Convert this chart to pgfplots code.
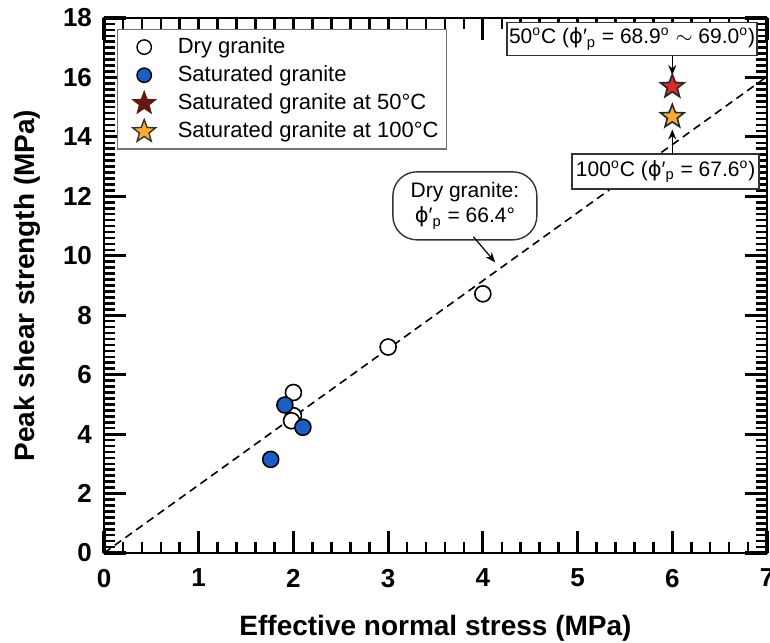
\documentclass[border=0pt]{standalone}
\usepackage{pgfplots}
\pgfplotsset{compat=1.18}
\usepackage{fontspec}
\setmainfont{Liberation Sans}
\newfontfamily\symfont{DejaVu Sans}
\usetikzlibrary{arrows.meta}

\definecolor{satblue}{RGB}{26,94,198}
\definecolor{starred}{RGB}{214,44,42}
\definecolor{starmaroon}{RGB}{100,24,18}
\definecolor{starorange}{RGB}{248,172,52}

% filled five-pointed star marker
\pgfdeclareplotmark{fstar}{%
  \pgfpathmoveto{\pgfpointpolar{90}{\pgfplotmarksize}}%
  \pgfpathlineto{\pgfpointpolar{126}{0.42\pgfplotmarksize}}%
  \pgfpathlineto{\pgfpointpolar{162}{\pgfplotmarksize}}%
  \pgfpathlineto{\pgfpointpolar{198}{0.42\pgfplotmarksize}}%
  \pgfpathlineto{\pgfpointpolar{234}{\pgfplotmarksize}}%
  \pgfpathlineto{\pgfpointpolar{270}{0.42\pgfplotmarksize}}%
  \pgfpathlineto{\pgfpointpolar{306}{\pgfplotmarksize}}%
  \pgfpathlineto{\pgfpointpolar{342}{0.42\pgfplotmarksize}}%
  \pgfpathlineto{\pgfpointpolar{18}{\pgfplotmarksize}}%
  \pgfpathlineto{\pgfpointpolar{54}{0.42\pgfplotmarksize}}%
  \pgfpathclose
  \pgfusepathqfillstroke}

% legend symbol: one mark in a fixed-width cell
\pgfplotsset{legmark/.style={legend image code/.code={%
  \path (0pt,0pt) (25.5pt,0pt);
  \draw[##1] plot coordinates {(11pt,0pt)};}}}

\newcommand{\phip}{{\symfont ϕ}′\textsubscript{p}}
\newcommand{\dg}{\textsuperscript{\fontsize{7}{7}\selectfont o}}

\begin{document}
\begin{tikzpicture}
\begin{axis}[
  width=331.5pt, height=267.5pt, scale only axis,
  xmin=0, xmax=7, ymin=0, ymax=18,
  xtick={0,1,...,7}, ytick={0,2,...,18},
  minor xtick={0,0.2,...,7},
  minor ytick={0,0.2,...,18},
  xtick pos=both, ytick pos=both,
  xtick align=inside, ytick align=inside,
  major tick length=11pt, minor tick length=5.5pt,
  axis line style={line width=1.1pt},
  major tick style={draw=black, line width=1.6pt},
  minor tick style={draw=black, line width=1.3pt},
  /pgf/number format/assume math mode=true,
  tick label style={font=\bfseries\fontsize{13}{15}\selectfont},
  xticklabel style={yshift=-4.5pt},
  yticklabel style={xshift=-2.5pt},
  xlabel={Effective normal stress (MPa)},
  ylabel={Peak shear strength (MPa)},
  xlabel style={font=\bfseries\fontsize{14}{16}\selectfont,
    at={(axis description cs:0.5,-0.1533)}, anchor=base},
  ylabel style={font=\bfseries\fontsize{14}{16}\selectfont,
    at={(axis description cs:-0.105,0.5)}, anchor=base},
  legend style={at={(axis description cs:0.0196,0.9794)}, anchor=north west,
    draw=black!55, line width=0.6pt, font=\fontsize{11}{13}\selectfont,
    row sep=0.6pt, inner xsep=2pt, inner ysep=2pt},
  legend cell align=left,
  clip=false,
]
% Mohr-Coulomb envelope of the dry granite
\addplot[black, line width=0.8pt, dash pattern=on 4pt off 2.6pt, forget plot]
  coordinates {(0,0) (7,16.03)};

% legend entries
\addlegendimage{legmark, only marks, mark=*, mark size=3.6pt, mark options={fill=white, draw=black, line width=0.7pt}}
\addlegendentry{Dry granite}
\addlegendimage{legmark, only marks, mark=*, mark size=3.6pt, mark options={fill=satblue, draw=black, line width=0.7pt}}
\addlegendentry{Saturated granite}
\addlegendimage{legmark, only marks, mark=fstar, mark size=6pt, mark options={fill=starmaroon, draw=starmaroon, line width=0.5pt}}
\addlegendentry{Saturated granite at 50°C}
\addlegendimage{legmark, only marks, mark=fstar, mark size=6pt, mark options={fill=starorange, draw=black!80, line width=0.7pt}}
\addlegendentry{Saturated granite at 100°C}

% dry granite
\addplot[only marks, mark=*, mark size=4pt, mark options={fill=white, draw=black, line width=0.8pt}, forget plot]
  coordinates {(2.0,5.40) (2.0,4.62) (1.98,4.45) (3.0,6.93) (4.0,8.72)};
% saturated granite
\addplot[only marks, mark=*, mark size=4pt, mark options={fill=satblue, draw=black, line width=0.8pt}, forget plot]
  coordinates {(1.91,4.98) (2.10,4.23) (1.76,3.15)};
% saturated granite at 50 C
\addplot[only marks, mark=fstar, mark size=6.2pt, mark options={fill=starred, draw=black!85, line width=0.8pt}, forget plot]
  coordinates {(6.0,15.69)};
% saturated granite at 100 C
\addplot[only marks, mark=fstar, mark size=6.2pt, mark options={fill=starorange, draw=black!85, line width=0.8pt}, forget plot]
  coordinates {(6.0,14.68)};

% annotations
\node[draw=black!80, line width=0.7pt, fill=white, minimum width=120pt, minimum height=16.5pt, inner sep=1pt,
      font=\fontsize{10.5}{12}\selectfont] at (axis cs:5.575,17.29)
  {50\dg C (\phip{} = 68.9\dg{} $\sim$ 69.0\dg)};
\draw[black, line width=0.7pt, -{Stealth[length=5pt,width=4pt]}] (axis cs:6,16.73) -- (axis cs:6,16.08);

\node[draw=black!80, line width=0.7pt, fill=white, minimum width=93.5pt, minimum height=17.5pt, inner sep=1pt,
      font=\fontsize{10.5}{12}\selectfont] at (axis cs:5.93,12.83)
  {100\dg C (\phip{} = 67.6\dg)};
\draw[black, line width=0.7pt, -{Stealth[length=5pt,width=4pt]}] (axis cs:6,13.40) -- (axis cs:6,14.25);

\node[draw=black!80, line width=0.7pt, fill=white, rounded corners=12pt, minimum width=72pt, minimum height=34pt,
      inner sep=2pt, align=center, font=\fontsize{10.5}{12.5}\selectfont] at (axis cs:3.81,11.68)
  {Dry granite:\\ \phip{} = 66.4°};
\draw[black, line width=0.6pt, -{Stealth[length=5pt,width=4pt]}] (axis cs:3.90,10.64) -- (axis cs:4.13,9.78);
\end{axis}
% page limits: the right edge sits just past the frame
\pgfresetboundingbox
\path[use as bounding box] ([shift={(-52pt,-44.5pt)}]current axis.south west)
  rectangle ([shift={(1.5pt,9pt)}]current axis.north east);
\end{tikzpicture}
\end{document}
